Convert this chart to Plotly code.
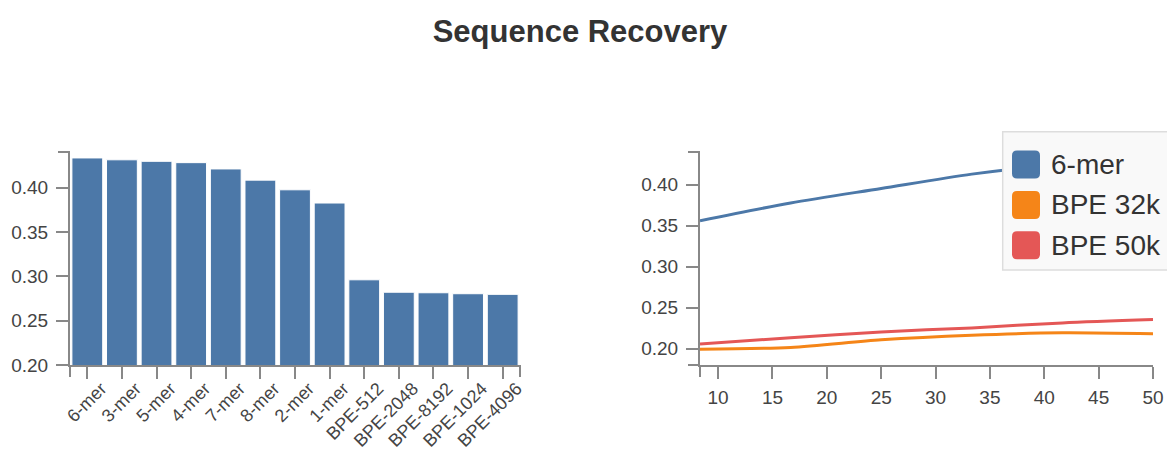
import plotly.graph_objects as go

# ---------------- data ----------------
bar_categories = ["6-mer", "3-mer", "5-mer", "4-mer", "7-mer", "8-mer", "2-mer", "1-mer",
                  "BPE-512", "BPE-2048", "BPE-8192", "BPE-1024", "BPE-4096"]
bar_values = [0.4333, 0.4312, 0.4295, 0.4280, 0.4209, 0.4083, 0.3974, 0.3825,
              0.2960, 0.2820, 0.2814, 0.2803, 0.2796]

line_x = [8.333, 16.667, 25.0, 33.333, 41.667, 50.0]
series_names = ["6-mer", "BPE 32k", "BPE 50k"]
series_6mer = [0.3560, 0.3778, 0.3955, 0.4130, 0.4255, 0.4330]
series_bpe32k = [0.1992, 0.2015, 0.2107, 0.2163, 0.2193, 0.2180]
series_bpe50k = [0.2056, 0.2133, 0.2204, 0.2253, 0.2314, 0.2354]
line_x_ticks = [10, 15, 20, 25, 30, 35, 40, 45, 50]

colors = ["#4c78a8", "#f58518", "#e45756"]

# ---------------- layout constants ----------------
W, H = 1167, 453
L, T = 70, 152
B = H - 365
R = 14
PW, PH = W - L - R, H - T - B


def px_x(px):
    """page pixel x -> paper x"""
    return (px - L) / PW


def px_y(py):
    """page pixel y -> paper y"""
    return (H - B - py) / PH


AXIS_COLOR = "#888888"
FONT = "Liberation Sans, Arial, sans-serif"
TICK_FONT = dict(family=FONT, size=19, color="#444444")

fig = go.Figure()

fig.add_trace(go.Bar(
    x=bar_categories, y=bar_values, xaxis="x", yaxis="y",
    marker=dict(color=colors[0], line=dict(color="white", width=1)),
    showlegend=False,
))

for name, vals, col in zip(series_names, [series_6mer, series_bpe32k, series_bpe50k], colors):
    fig.add_trace(go.Scatter(
        x=line_x, y=vals, xaxis="x2", yaxis="y2", mode="lines", name=name,
        line=dict(color=col, width=3, shape="spline", smoothing=0.8),
        showlegend=False,
    ))

axis_common = dict(
    showline=True, linecolor=AXIS_COLOR, linewidth=2,
    ticks="outside", ticklen=12, tickwidth=2, tickcolor=AXIS_COLOR,
    showgrid=False, zeroline=False, automargin=False,
)

fig.update_layout(
    width=W, height=H,
    margin=dict(l=L, r=R, t=T, b=B, pad=0, autoexpand=False),
    paper_bgcolor="white", plot_bgcolor="white",
    title=dict(text="Sequence Recovery", x=580 / W, xanchor="center", xref="container",
               y=1 - 31 / H, yanchor="middle", yref="container",
               font=dict(family=FONT, size=31, color="#333333", weight="bold")),
    bargap=0.11,
    xaxis=dict(domain=[0, px_x(520)], type="category", range=[-0.5, len(bar_categories) - 0.5],
               tickfont=dict(family=FONT, size=18, color="#444444"), tickangle=-45,
               ticklabelshift=14, ticklabelstandoff=-8, **axis_common),
    yaxis=dict(domain=[0, 1], range=[0.20, 0.44], tick0=0.2, dtick=0.05, tickformat=".2f",
               tickfont=TICK_FONT, ticklabelstandoff=4, **axis_common),
    xaxis2=dict(domain=[px_x(700), 1], range=[line_x[0], line_x[-1]], anchor="y2",
                tickvals=line_x_ticks, tickfont=TICK_FONT, ticklabelstandoff=2, **axis_common),
    yaxis2=dict(domain=[0, 1], range=[0.18, 0.44], anchor="x2", tick0=0.2, dtick=0.05,
                tickformat=".2f", tickfont=TICK_FONT, ticklabelstandoff=4, **axis_common),
    hovermode=False,
)

shapes = []
# d3-style outer ticks at axis ends
for xr, yr, xends in [("x domain", "y domain", [0, 1]), ("x2 domain", "y2 domain", [0])]:
    for xe in xends:
        shapes.append(dict(type="line", xref=xr, yref=yr, x0=xe, x1=xe, ysizemode="pixel", yanchor=0,
                           y0=0, y1=-12, line=dict(color=AXIS_COLOR, width=2)))
    for ye in [1, 0]:
        shapes.append(dict(type="line", xref=xr, yref=yr, y0=ye, y1=ye, xsizemode="pixel", xanchor=0,
                           x0=0, x1=-12, line=dict(color=AXIS_COLOR, width=2)))

# custom legend (box, rounded swatches, labels)
shapes.append(dict(type="rect", xref="paper", yref="paper", layer="above",
                   x0=px_x(1002.7), x1=px_x(1190), y0=px_y(270), y1=px_y(131.7),
                   fillcolor="#f9f9f9", line=dict(color="#dddddd", width=1.5)))
rounded = ("M -9,-14 L 9,-14 Q 14,-14 14,-9 L 14,9 Q 14,14 9,14 L -9,14 "
           "Q -14,14 -14,9 L -14,-9 Q -14,-14 -9,-14 Z")
annotations = []
for i, (name, col) in enumerate(zip(series_names, colors)):
    cy = 164.5 + i * 40.4
    shapes.append(dict(type="path", xref="paper", yref="paper", layer="above",
                       xsizemode="pixel", ysizemode="pixel", xanchor=px_x(1026), yanchor=px_y(cy),
                       path=rounded, fillcolor=col, line=dict(width=0)))
    annotations.append(dict(xref="paper", yref="paper", x=px_x(1049), y=px_y(cy), xanchor="left",
                            yanchor="middle", text=name, showarrow=False,
                            font=dict(family=FONT, size=28, color="#333333")))

fig.update_layout(shapes=shapes, annotations=annotations)

fig.write_html(
    "out.html",
    config={"displayModeBar": False},
    post_script="document.body.style.margin='0px';document.body.style.overflow='hidden';",
)
